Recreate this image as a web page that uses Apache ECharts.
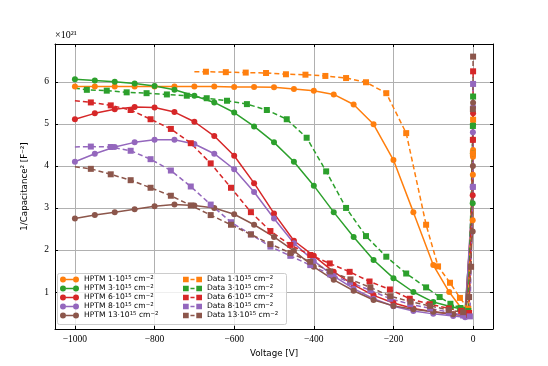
<!DOCTYPE html>
<html><head><meta charset="utf-8">
<script src="https://cdn.jsdelivr.net/npm/echarts@6/dist/echarts.min.js"></script>
<style>html,body{margin:0;padding:0;background:#fff}#c{width:548px;height:366px}</style>
</head><body><div id="c"></div>
<script>
// ---- data (Voltage [V], 1/C^2 [1e21 F^-2]) ----
const doses = [1, 3, 6, 8, 13];
const colors = ['#ff7f0e', '#2ca02c', '#d62728', '#9467bd', '#8c564b'];
const xTicks = [-1000, -800, -600, -400, -200, 0];
const yTicks = [1, 2, 3, 4, 5, 6];

const hptm1 = [[-1000,5.89],[-950,5.89],[-900,5.89],[-850,5.89],[-800,5.89],[-750,5.89],[-700,5.89],[-650,5.89],[-600,5.88],[-550,5.88],[-500,5.87],[-450,5.83],[-400,5.79],[-350,5.70],[-300,5.46],[-250,4.99],[-200,4.14],[-150,2.90],[-100,1.64],[-60,1.0],[-30,0.62],[-12,0.5],[-1,2.71],[-0.6,3.79],[-0.3,4.22],[0,4.38]];
const hptm3 = [[-1000,6.06],[-950,6.03],[-900,6.0],[-850,5.96],[-800,5.90],[-750,5.81],[-700,5.67],[-650,5.51],[-600,5.27],[-550,4.94],[-500,4.56],[-450,4.10],[-400,3.53],[-350,2.90],[-300,2.31],[-250,1.76],[-200,1.33],[-150,1.0],[-100,0.76],[-55,0.65],[-20,0.58],[-1,3.11],[-0.5,4.3],[0,4.98]];
const hptm6 = [[-1000,5.11],[-950,5.25],[-900,5.35],[-850,5.40],[-800,5.39],[-750,5.28],[-700,5.05],[-650,4.71],[-600,4.24],[-550,3.59],[-500,2.87],[-450,2.22],[-400,1.86],[-350,1.48],[-300,1.17],[-250,0.92],[-200,0.74],[-150,0.61],[-100,0.53],[-50,0.47],[-20,0.44],[-1,3.3],[-0.5,4.62],[0,5.25]];
const hptm8 = [[-1000,4.10],[-950,4.29],[-900,4.45],[-850,4.56],[-800,4.62],[-750,4.62],[-700,4.52],[-650,4.29],[-600,3.92],[-550,3.38],[-500,2.75],[-450,2.16],[-400,1.74],[-350,1.38],[-300,1.08],[-250,0.84],[-200,0.66],[-150,0.55],[-100,0.48],[-50,0.43],[-20,0.40],[-1,3.5],[-0.5,4.8],[0,5.4]];
const hptm13 = [[-1000,2.75],[-950,2.83],[-900,2.90],[-850,2.97],[-800,3.04],[-750,3.08],[-700,3.06],[-650,3.0],[-600,2.85],[-550,2.60],[-500,2.31],[-450,1.98],[-400,1.60],[-350,1.29],[-300,1.03],[-250,0.81],[-200,0.67],[-150,0.59],[-100,0.53],[-50,0.47],[-20,0.45],[-1,2.44],[-0.5,4.0],[0,5.5]];

// first point of each measured curve (line start, no marker)
const dataStart = [[-700,6.24],[-1000,5.85],[-1000,5.55],[-1000,4.45],[-1000,3.98]];
const data1 = [[-671,6.24],[-621,6.23],[-571,6.22],[-520,6.21],[-470,6.18],[-421,6.17],[-371,6.14],[-319,6.09],[-269,5.99],[-218,5.73],[-168,4.78],[-118,2.60],[-88,1.61],[-58,1.22],[-33,0.86],[-12,0.6],[-0.5,4.3],[0,5.1]];
const data3 = [[-970,5.81],[-920,5.79],[-870,5.75],[-820,5.73],[-769,5.70],[-719,5.67],[-669,5.61],[-618,5.55],[-568,5.47],[-518,5.33],[-468,5.11],[-418,4.67],[-369,3.87],[-319,3.0],[-269,2.33],[-218,1.84],[-168,1.44],[-118,1.11],[-84,0.88],[-57,0.72],[-32,0.62],[-12,0.55],[-0.5,4.95],[0,5.65]];
const data6 = [[-960,5.51],[-910,5.44],[-860,5.33],[-810,5.11],[-759,4.88],[-709,4.54],[-659,4.06],[-608,3.48],[-558,2.90],[-509,2.45],[-459,2.12],[-409,1.88],[-360,1.68],[-310,1.48],[-260,1.25],[-209,1.06],[-159,0.84],[-109,0.71],[-61,0.61],[-30,0.55],[-10,0.5],[-0.5,4.62],[0,6.25]];
const data8 = [[-960,4.46],[-910,4.45],[-860,4.36],[-810,4.16],[-759,3.89],[-709,3.51],[-659,3.08],[-608,2.66],[-558,2.37],[-509,2.08],[-459,1.86],[-409,1.64],[-359,1.42],[-309,1.23],[-258,1.04],[-208,0.84],[-158,0.71],[-108,0.61],[-61,0.52],[-25,0.44],[-8,0.42],[-0.5,3.5],[0,5.95]];
const data13 = [[-960,3.93],[-910,3.80],[-860,3.66],[-810,3.48],[-759,3.29],[-709,3.06],[-659,2.83],[-608,2.60],[-558,2.37],[-509,2.14],[-459,1.93],[-409,1.72],[-359,1.49],[-308,1.30],[-258,1.11],[-208,0.90],[-157,0.77],[-108,0.67],[-61,0.57],[-25,0.52],[-10,0.88],[-5,1.6],[-0.5,5.35],[0,6.6]];

const hptmSets = [hptm1, hptm3, hptm6, hptm8, hptm13];
const dataSets = [data1, data3, data6, data8, data13];

// ---- chart ----
const chart = echarts.init(document.getElementById('c'), null, {renderer: 'canvas'});
const serif = 'Liberation Serif';
const sans = 'DejaVu Sans';
const fmt = v => (v < 0 ? '\u2212' + Math.abs(v) : String(v));
const hptmIcon = 'path://M0,30A30,30,0,1,1,60,30A30,30,0,1,1,0,30ZM130,30A30,30,0,1,1,190,30A30,30,0,1,1,130,30ZM60,23L130,23L130,37L60,37Z';
const dataIcon = 'path://M2,2L58,2L58,58L2,58ZM132,2L188,2L188,58L132,58ZM75,23L115,23L115,37L75,37Z';

const series = [];
hptmSets.forEach((s, i) => {
  series.push({
    name: 'HPTM ' + doses[i], type: 'line', data: s,
    xAxisIndex: 0, yAxisIndex: 0,
    symbol: 'circle', symbolSize: 6, showSymbol: true,
    itemStyle: {color: colors[i]},
    lineStyle: {color: colors[i], width: 1.5},
    z: 2, animation: false
  });
});
dataSets.forEach((s, i) => {
  const d = [{value: dataStart[i], symbol: 'none'}].concat(s);
  series.push({
    name: 'Data ' + doses[i], type: 'line', data: d,
    xAxisIndex: 0, yAxisIndex: 0,
    symbol: 'rect', symbolSize: 6, showSymbol: true,
    itemStyle: {color: colors[i]},
    lineStyle: {color: colors[i], width: 1.5, type: [5, 3]},
    z: 2, animation: false
  });
});

const rich = {
  t: {fontFamily: sans, fontSize: 7.6, color: '#000', lineHeight: 8.7},
  s: {fontFamily: sans, fontSize: 5.4, color: '#000', lineHeight: 8.7, padding: [0, 0, 4, 0]}
};
const legendFmt = name => {
  const parts = name.split(' ');
  return '{t|' + parts[0] + ' ' + parts[1] + '\u00b710}{s|15}{t| cm}{s|\u22122}';
};
const legendBase = {
  orient: 'vertical', itemWidth: 19, itemHeight: 6, itemGap: 0,
  padding: 0, formatter: legendFmt,
  textStyle: {rich: rich, fontSize: 7.6, lineHeight: 8.7},
  selectedMode: false, z: 5
};

chart.setOption({
  animation: false,
  backgroundColor: '#fff',
  grid: {left: 55, right: 55, top: 44, bottom: 37, containLabel: false},
  xAxis: [
    {type: 'value', position: 'bottom', min: -1050, max: 50,
     axisLine: {show: true, onZero: false, lineStyle: {color: '#000', width: 1}},
     axisTick: {show: true, inside: true, length: 3, customValues: xTicks, lineStyle: {color: '#000'}},
     axisLabel: {show: true, customValues: xTicks, formatter: fmt, fontFamily: serif, fontSize: 9.5, color: '#000', margin: 5},
     splitLine: {show: true, lineStyle: {color: '#b0b0b0', width: 1}},
     name: 'Voltage [V]', nameLocation: 'middle', nameGap: 20,
     nameTextStyle: {fontFamily: sans, fontSize: 8.7, color: '#000'}},
    {type: 'value', position: 'top', min: -1050, max: 50,
     axisLine: {show: true, onZero: false, lineStyle: {color: '#000', width: 1}},
     axisTick: {show: true, inside: true, length: 3, customValues: xTicks, lineStyle: {color: '#000'}},
     axisLabel: {show: false}, splitLine: {show: false}}
  ],
  yAxis: [
    {type: 'value', position: 'left', min: 0.12, max: 6.9,
     axisLine: {show: true, onZero: false, lineStyle: {color: '#000', width: 1}},
     axisTick: {show: true, inside: true, length: 3, customValues: yTicks, lineStyle: {color: '#000'}},
     axisLabel: {show: true, customValues: yTicks, fontFamily: serif, fontSize: 9.5, color: '#000', margin: 6},
     splitLine: {show: true, lineStyle: {color: '#b0b0b0', width: 1}},
     name: '1/Capacitance\u00b2 [F\u207b\u00b2]', nameLocation: 'middle', nameGap: 26, nameRotate: 90,
     nameTextStyle: {fontFamily: sans, fontSize: 8.7, color: '#000'}},
    {type: 'value', position: 'right', min: 0.12, max: 6.9,
     axisLine: {show: true, onZero: false, lineStyle: {color: '#000', width: 1}},
     axisTick: {show: true, inside: true, length: 3, customValues: yTicks, lineStyle: {color: '#000'}},
     axisLabel: {show: false}, splitLine: {show: false}}
  ],
  legend: [
    Object.assign({}, legendBase, {left: 60, top: 275, data: doses.map(d => ({name: 'HPTM ' + d, icon: hptmIcon}))}),
    Object.assign({}, legendBase, {left: 183, top: 275, data: doses.map(d => ({name: 'Data ' + d, icon: dataIcon}))})
  ],
  graphic: [
    {type: 'rect', z: 4, shape: {x: 57.5, y: 273.5, width: 229, height: 51, r: 2},
     style: {fill: 'rgba(255,255,255,0.8)', stroke: '#cccccc', lineWidth: 1}},
    {type: 'text', z: 5, left: 55, top: 30,
     style: {text: '\u00d710\u00b2\u00b9', font: '10px "Liberation Serif"', fill: '#000'}}
  ],
  series: series
});
</script></body></html>
